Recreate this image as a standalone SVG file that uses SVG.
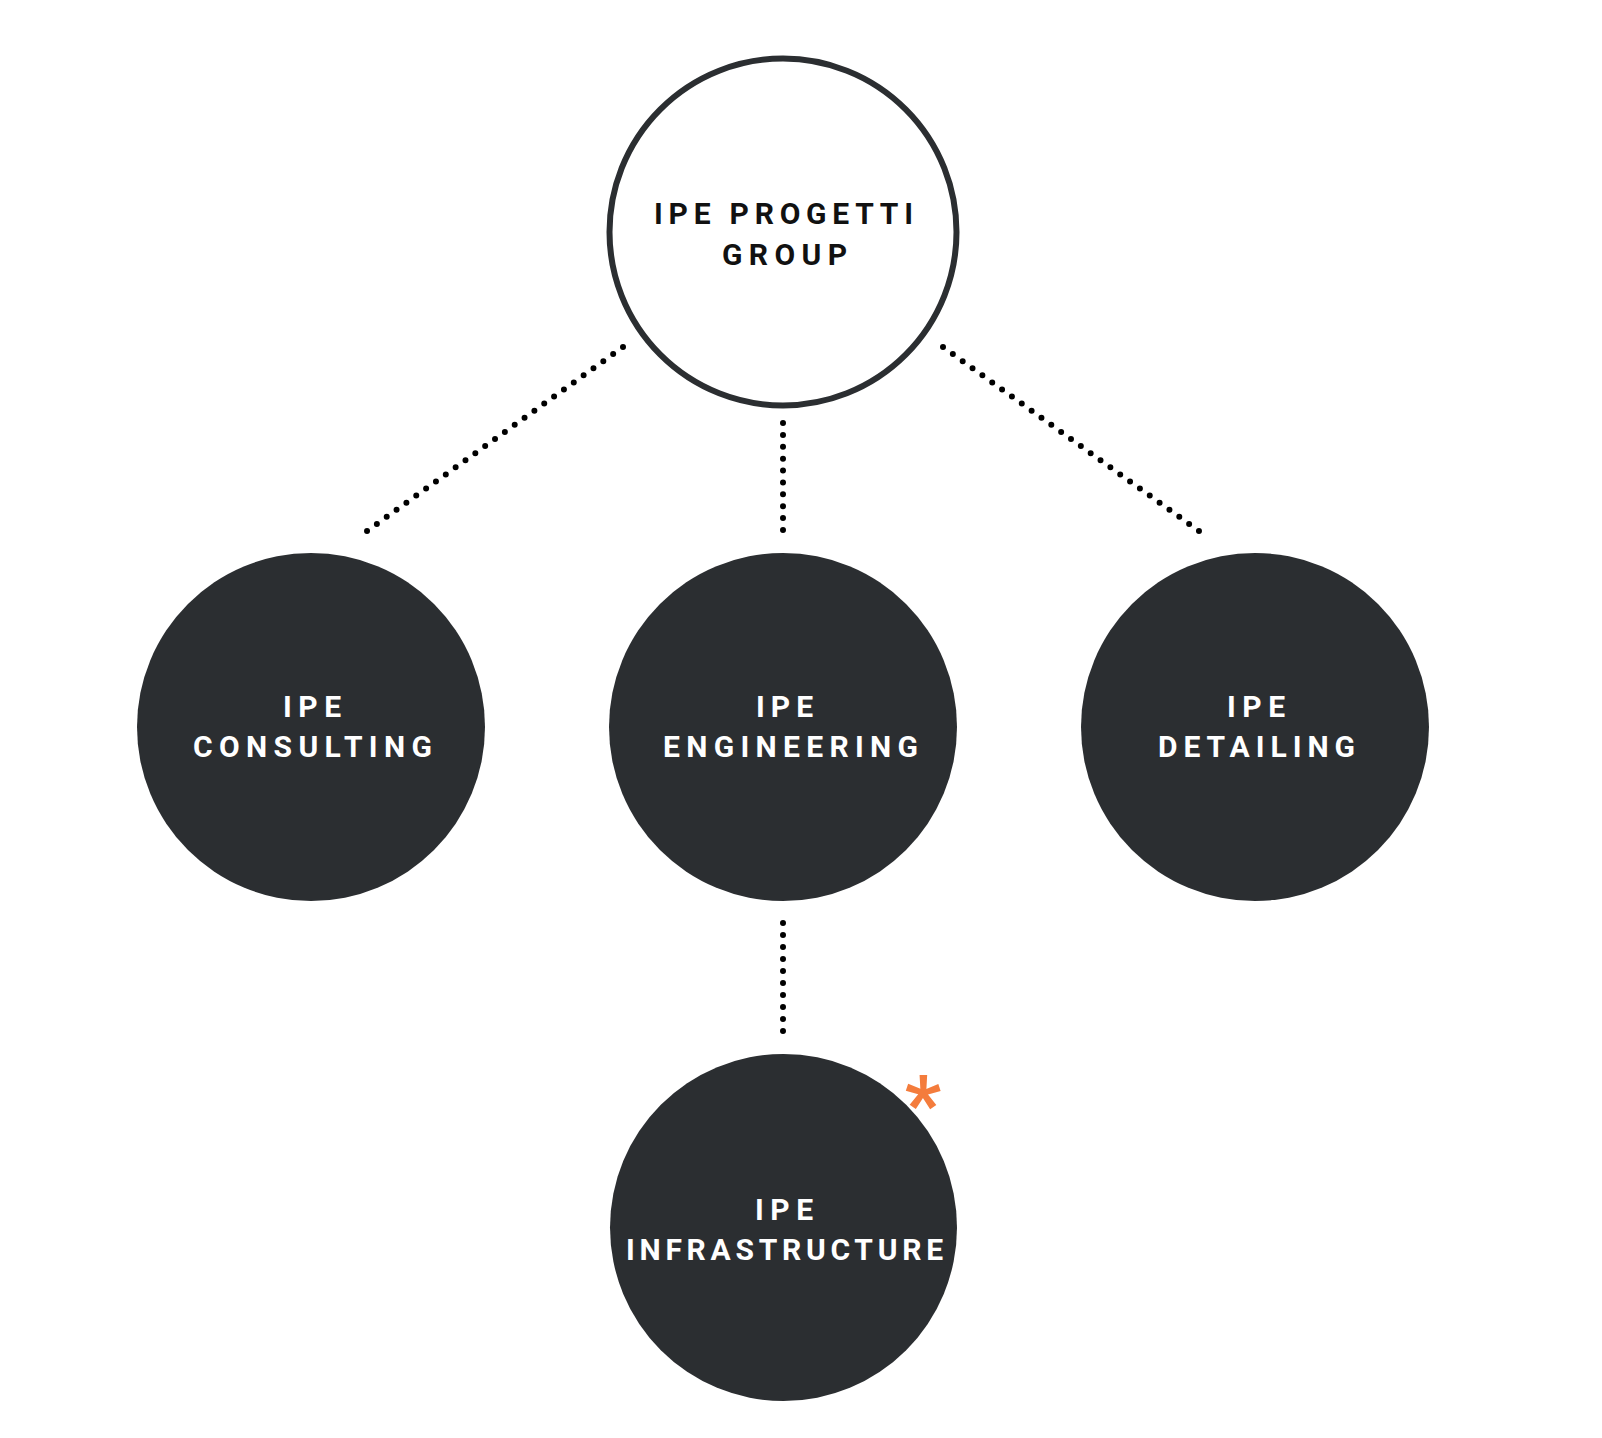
<svg xmlns="http://www.w3.org/2000/svg" width="1602" height="1438" viewBox="0 0 1602 1438">
  <style>
    .lbl { font-family: "Liberation Sans Narrow", "Roboto", "Liberation Sans", sans-serif; font-weight: bold; font-size: 30px; }
    .dark { fill: #2b2e31; }
    .white { fill: #ffffff; }
    .black { fill: #111111; }
    .dots { fill: none; stroke: #000000; stroke-width: 6; stroke-linecap: round; }
  </style>
  <rect width="1602" height="1438" fill="#ffffff"/>
  <g id="connectors">
    <line class="dots" x1="623" y1="347" x2="366.2" y2="531.6" stroke-dasharray="0 12.125"/>
    <line class="dots" x1="943" y1="347" x2="1199.8" y2="531.6" stroke-dasharray="0 12.125"/>
    <line class="dots" x1="783" y1="423" x2="783" y2="531" stroke-dasharray="0 11.89"/>
    <line class="dots" x1="783" y1="923" x2="783" y2="1032" stroke-dasharray="0 12"/>
  </g>
  <g id="node-group">
    <circle cx="783" cy="232" r="173.5" fill="#ffffff" stroke="#2b2e31" stroke-width="6"/>
    <text class="lbl black" x="654" y="224" textLength="259" lengthAdjust="spacing">IPE PROGETTI</text>
    <text class="lbl black" x="722" y="265" textLength="125" lengthAdjust="spacing">GROUP</text>
  </g>
  <g id="node-consulting">
    <circle class="dark" cx="311" cy="727" r="174"/>
    <text class="lbl white" x="283" y="717" textLength="58" lengthAdjust="spacing">IPE</text>
    <text class="lbl white" x="193" y="757" textLength="239" lengthAdjust="spacing">CONSULTING</text>
  </g>
  <g id="node-engineering">
    <circle class="dark" cx="783" cy="727" r="174"/>
    <text class="lbl white" x="756" y="717" textLength="57" lengthAdjust="spacing">IPE</text>
    <text class="lbl white" x="663" y="757" textLength="255" lengthAdjust="spacing">ENGINEERING</text>
  </g>
  <g id="node-detailing">
    <circle class="dark" cx="1255" cy="727" r="174"/>
    <text class="lbl white" x="1227" y="717" textLength="58" lengthAdjust="spacing">IPE</text>
    <text class="lbl white" x="1158" y="757" textLength="197" lengthAdjust="spacing">DETAILING</text>
  </g>
  <g id="node-infrastructure">
    <circle class="dark" cx="783.5" cy="1227.5" r="173.5"/>
    <text class="lbl white" x="755" y="1220" textLength="58" lengthAdjust="spacing">IPE</text>
    <text class="lbl white" x="626" y="1260" textLength="317" lengthAdjust="spacing">INFRASTRUCTURE</text>
    <text x="923" y="1132" text-anchor="middle" font-family="Roboto, sans-serif" font-weight="bold" font-size="80" fill="#f47c3c">*</text>
  </g>
</svg>
